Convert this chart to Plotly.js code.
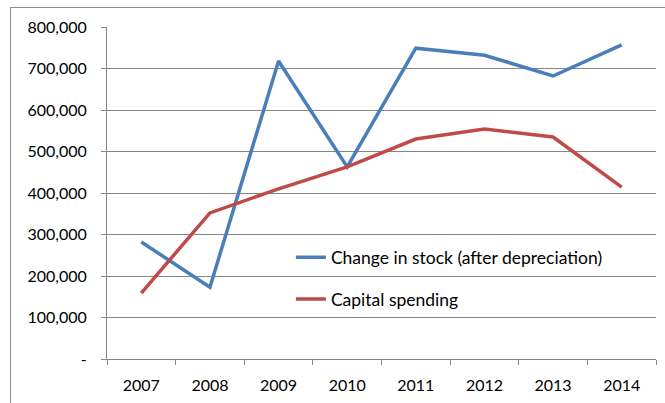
<!DOCTYPE html>
<html>
<head>
<meta charset="utf-8">
<script src="https://cdn.plot.ly/plotly-3.0.1.min.js"></script>
<style>
html,body{margin:0;padding:0;width:665px;height:403px;overflow:hidden;background:#fff;}
#frame{position:absolute;left:10px;top:7px;width:700px;height:450px;border:1px solid #8c8c8c;}
#chart{position:absolute;left:0;top:0;width:665px;height:403px;}
</style>
</head>
<body>
<div id="frame"></div>
<div id="chart"></div>
<script>
const years = ['2007','2008','2009','2010','2011','2012','2013','2014'];
const changeInStock = [282000, 173000, 718000, 463000, 749000, 732000, 682000, 757000];
const capitalSpending = [159000, 352000, 410000, 463000, 530000, 554000, 535000, 414000];
const yTickVals = [0,100000,200000,300000,400000,500000,600000,700000,800000];
const yTickText = ['-','100,000','200,000','300,000','400,000','500,000','600,000','700,000','800,000'];

const font = {family: 'Lato, "Open Sans", sans-serif', size: 16, color: '#000'};
const legendFont = {family: 'Lato, "Open Sans", sans-serif', size: 17.5, color: '#000'};

const traces = [
  {x: years, y: changeInStock, type: 'scatter', mode: 'lines', name: 'Change in stock (after depreciation)',
   line: {color: '#4a7ebb', width: 3.5}, legend: 'legend'},
  {x: years, y: capitalSpending, type: 'scatter', mode: 'lines', name: 'Capital spending',
   line: {color: '#be4b48', width: 3.5}, legend: 'legend2'}
];

const legendCommon = {bgcolor: 'rgba(0,0,0,0)', font: legendFont, xanchor: 'left', yanchor: 'middle', itemwidth: 30};

const layout = {
  width: 665, height: 403,
  margin: {l: 107, r: 9, t: 27, b: 44, pad: 0},
  paper_bgcolor: 'rgba(0,0,0,0)',
  plot_bgcolor: 'rgba(0,0,0,0)',
  font: font,
  showlegend: true,
  xaxis: {
    type: 'category', range: [-0.5, 7.5],
    showgrid: false, showline: true, linecolor: '#868686', linewidth: 1,
    ticks: 'outside', ticklen: 5, tickcolor: '#868686', tickson: 'boundaries',
    ticklabelstandoff: 12, tickfont: font, zeroline: false
  },
  yaxis: {
    range: [0, 800000], tickvals: yTickVals, ticktext: yTickText,
    showgrid: true, gridcolor: '#868686', gridwidth: 1,
    showline: true, linecolor: '#868686', linewidth: 1,
    ticks: 'outside', ticklen: 5, tickcolor: '#868686',
    ticklabelstandoff: 11, tickfont: font, zeroline: false
  },
  legend: Object.assign({x: 0.335, y: 0.306}, legendCommon),
  legend2: Object.assign({x: 0.335, y: 0.180}, legendCommon)
};

Plotly.newPlot('chart', traces, layout, {displayModeBar: false, staticPlot: true});
</script>
</body>
</html>
